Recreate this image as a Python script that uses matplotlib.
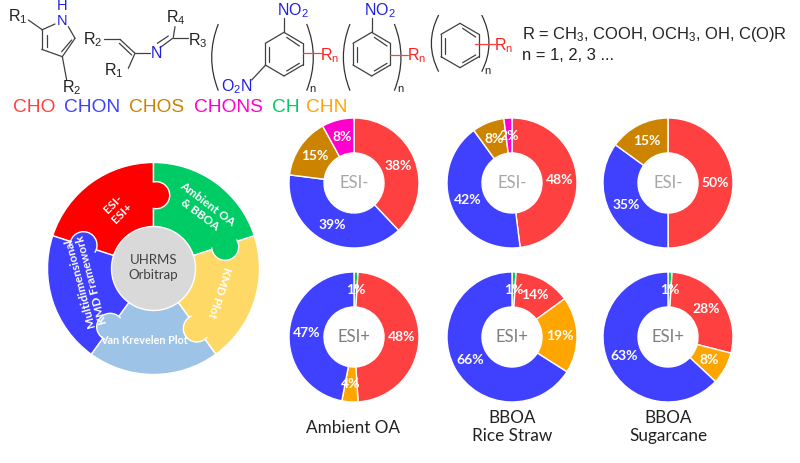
import matplotlib
matplotlib.use("Agg")
import matplotlib.pyplot as plt
from matplotlib.patches import Wedge, Circle, Arc, PathPatch
from matplotlib.path import Path

plt.rcParams['font.family'] = ['Liberation Sans', 'DejaVu Sans']
plt.rcParams['mathtext.default'] = 'regular'

# colours of the compound classes
RED = '#FF4040'
BLUE = '#4040FF'
BROWN = '#CC8400'
MAGENTA = '#FF00CC'
GREEN = '#00CC66'
ORANGE = '#FFA500'

legend_names = ['CHO', 'CHON', 'CHOS', 'CHONS', 'CH', 'CHN']
legend_colors = [RED, BLUE, BROWN, MAGENTA, GREEN, ORANGE]
legend_x = [13, 64, 129, 194, 272, 306]

# ESI- row
neg_classes = ['CHO', 'CHON', 'CHOS', 'CHONS']
neg_ambient = [38, 39, 15, 8]
neg_rice = [48, 42, 8, 2]
neg_sugar = [50, 35, 15, 0]

# ESI+ row
pos_classes = ['CH', 'CHO', 'CHN', 'CHON']
pos_ambient = [1, 48, 4, 47]
pos_rice = [1, 14, 19, 66]
pos_sugar = [1, 28, 8, 63]

class_colors = dict(zip(legend_names, legend_colors))

wheel_labels = ['ESI-\nESI+', 'Ambient OA\n& BBOA', 'KMD Plot', 'Van Krevelen Plot',
                'Multidimensional\nKMD Framework']
wheel_colors = ['#FF0000', '#00CC66', '#FFD966', '#9DC3E6', '#3F3FFF']
wheel_center_label = 'UHRMS\nOrbitrap'

W, H = 800, 463
fig = plt.figure(figsize=(W / 100, H / 100), dpi=100)

# page axes in pixels, y pointing down like the picture
ax = fig.add_axes([0, 0, 1, 1])
ax.set_xlim(0, W)
ax.set_ylim(H, 0)
ax.axis('off')


def bonds(segments, color='#404040', lw=0.9):
    for x0, y0, x1, y1 in segments:
        ax.plot([x0 / 3, x1 / 3], [y0 / 3, y1 / 3], color=color, lw=lw, solid_capstyle='round')


def label(x, y, s, color='#222222', size=11.5, ha='center'):
    ax.text(x / 3, y / 3, s, color=color, fontsize=size, ha=ha, va='center')


def paren(x_tip, x_bulge, y0, y1):
    verts = [(x_tip / 3, y0 / 3), (x_bulge / 3, (y0 + y1) / 6), (x_tip / 3, y1 / 3)]
    codes = [Path.MOVETO, Path.CURVE3, Path.CURVE3]
    ax.add_patch(PathPatch(Path(verts, codes), fill=False, ec='#333333', lw=0.9))


def hexagon(cx, top, bottom, half_w, upper, lower):
    # outline plus three inner double bond strokes
    pts = [(cx, top), (cx + half_w, upper), (cx + half_w, lower), (cx, bottom),
           (cx - half_w, lower), (cx - half_w, upper), (cx, top)]
    bonds([(a[0], a[1], b[0], b[1]) for a, b in zip(pts[:-1], pts[1:])])
    bonds([(cx + 8, top + 15, cx + half_w - 10, upper + 8),
           (cx + half_w - 10, lower - 5, cx + 8, bottom - 15),
           (cx - half_w + 11, upper + 10, cx - half_w + 11, lower - 8)])


# pyrrole
bonds([(85, 60, 125, 88), (165, 72, 125, 90), (205, 80, 225, 115), (125, 90, 125, 148),
       (125, 148, 187, 170), (187, 170, 225, 115), (140, 105, 140, 140), (185, 155, 215, 120),
       (187, 170, 200, 240)])
label(185, 18, 'H', '#2020E0', size=10.5)
label(185, 63, 'N', '#2020E0', size=10.5)
label(52, 50, 'R$_1$')
label(215, 262, 'R$_2$')

# imine
bonds([(312, 118, 360, 118), (360, 118, 405, 160), (358, 130, 395, 165), (405, 160, 450, 160),
       (405, 160, 385, 205), (480, 143, 518, 115), (472, 130, 505, 108), (520, 112, 525, 80),
       (520, 115, 565, 115)])
label(278, 118, 'R$_2$')
label(468, 162, 'N', '#2020E0')
label(342, 212, 'R$_1$')
label(528, 52, 'R$_4$')
label(592, 122, 'R$_3$')

# dinitro ring
hexagon(852, 97, 228, 56, 130, 195)
bonds([(852, 97, 852, 55), (797, 195, 755, 240)])
label(878, 33, 'NO$_2$', '#2020E0')
label(710, 260, 'O$_2$N', '#2020E0')
bonds([(908, 160, 965, 160)], color='#FF4040')
label(990, 168, 'R$_n$', '#FF2020')
paren(655, 615, 72, 272)
paren(920, 960, 72, 272)
label(937, 268, 'n', size=8)

# nitro ring
hexagon(1115, 97, 228, 56, 130, 195)
bonds([(1115, 97, 1115, 55)])
label(1140, 33, 'NO$_2$', '#2020E0')
bonds([(1170, 165, 1225, 165)], color='#FF4040')
label(1250, 168, 'R$_n$', '#FF2020')
paren(1050, 1010, 72, 272)
paren(1183, 1223, 72, 272)
label(1200, 268, 'n', size=8)

# plain ring
hexagon(1380, 70, 203, 57, 103, 170)
bonds([(1425, 133, 1485, 133)], color='#FF4040')
label(1510, 136, 'R$_n$', '#FF2020')
paren(1316, 1272, 45, 215)
paren(1445, 1489, 45, 215)
label(1462, 213, 'n', size=8)

ax.text(522, 35, 'R = CH$_3$, COOH, OCH$_3$, OH, C(O)R', color='#222222', fontsize=11.9,
        ha='left', va='center')
ax.text(522, 56, 'n = 1, 2, 3 ...', color='#222222', fontsize=11.9, ha='left', va='center')

for name, color, x in zip(legend_names, legend_colors, legend_x):
    ax.text(x, 107, name, color=color, fontsize=13.8, ha='left', va='center')

ax.text(353, 428, 'Ambient OA', fontsize=12.3, family='Lato', color='#222222', ha='center', va='center')
ax.text(512, 427, 'BBOA\nRice Straw', fontsize=12.3, family='Lato', color='#222222', ha='center',
        va='center', linespacing=1.2)
ax.text(668, 427, 'BBOA\nSugarcane', fontsize=12.3, family='Lato', color='#222222', ha='center',
        va='center', linespacing=1.2)


def donut(cx, cy, values, classes, center, center_color):
    r = 65
    box = 2 * r * 1.02
    a = fig.add_axes([(cx - box / 2) / W, 1 - (cy + box / 2) / H, box / W, box / H])
    vals = [v for v in values if v > 0]
    cols = [class_colors[c] for v, c in zip(values, classes) if v > 0]
    a.pie(vals, colors=cols, startangle=90, counterclock=False, radius=1,
          wedgeprops=dict(width=35 / 65, edgecolor='white', linewidth=1.0),
          autopct=lambda p: '%d%%' % round(p), pctdistance=0.73,
          textprops=dict(color='white', fontsize=10, family='Lato', weight='bold'))
    a.set_xlim(-1.02, 1.02)
    a.set_ylim(-1.02, 1.02)
    a.text(0, 0, center, color=center_color, fontsize=12, family='Lato', ha='center', va='center')


donut(354, 183, neg_ambient, neg_classes, 'ESI-', '#A6A6A6')
donut(512, 183, neg_rice, neg_classes, 'ESI-', '#A6A6A6')
donut(668, 183, neg_sugar, neg_classes, 'ESI-', '#A6A6A6')
donut(354, 337, pos_ambient, pos_classes, 'ESI+', '#7F7F7F')
donut(512, 337, pos_rice, pos_classes, 'ESI+', '#7F7F7F')
donut(668, 337, pos_sugar, pos_classes, 'ESI+', '#7F7F7F')

# puzzle wheel, coordinates are pixels from its centre, y up
wx, wy, wr = 153.5, 268.5, 106
side = 2 * wr + 6
w = fig.add_axes([(wx - side / 2) / W, 1 - (wy + side / 2) / H, side / W, side / H])
w.set_xlim(-side / 2, side / 2)
w.set_ylim(-side / 2, side / 2)
w.axis('off')

step = 360 / len(wheel_labels)
tab_pos = [(2.7, 73.3), (71.7, 21.7), (43.3, -60), (-43.3, -58.3), (-70, 23.3)]
tab_r = 13.5
for i, color in enumerate(wheel_colors):
    hi = 162 - step * i
    w.add_patch(Wedge((0, 0), wr, hi - step, hi, fc=color, ec='white', lw=1.0))
for i, color in enumerate(wheel_colors):
    # tab sticks out over the clockwise edge of its own sector
    edge = 90 - step * i
    w.add_patch(Circle(tab_pos[i], tab_r, fc=color, ec='none', zorder=3))
    w.add_patch(Arc(tab_pos[i], 2 * tab_r, 2 * tab_r, theta1=edge - 195, theta2=edge + 15,
                    ec='white', lw=1.0, zorder=4))
w.add_patch(Circle((0, 0), 42, fc='#D9D9D9', ec='white', lw=1.0, zorder=5))
w.text(0, 1, wheel_center_label, color='#404040', fontsize=9.5, family='Lato', ha='center',
       va='center', linespacing=1.25, zorder=6)

text_pos = [(-36, 60, 45, 8.5), (50, 59, -37, 8.5), (66, -24, -108, 8.5), (-10, -72, 0, 7.8),
            (-68, -13, 105, 8.5)]
for s, (x, y, rot, size) in zip(wheel_labels, text_pos):
    w.text(x, y, s, color='white', fontsize=size, family='Lato', weight='bold', rotation=rot,
           rotation_mode='anchor', ha='center', va='center', linespacing=1.2, zorder=6)

fig.savefig('out.png', dpi=100)
